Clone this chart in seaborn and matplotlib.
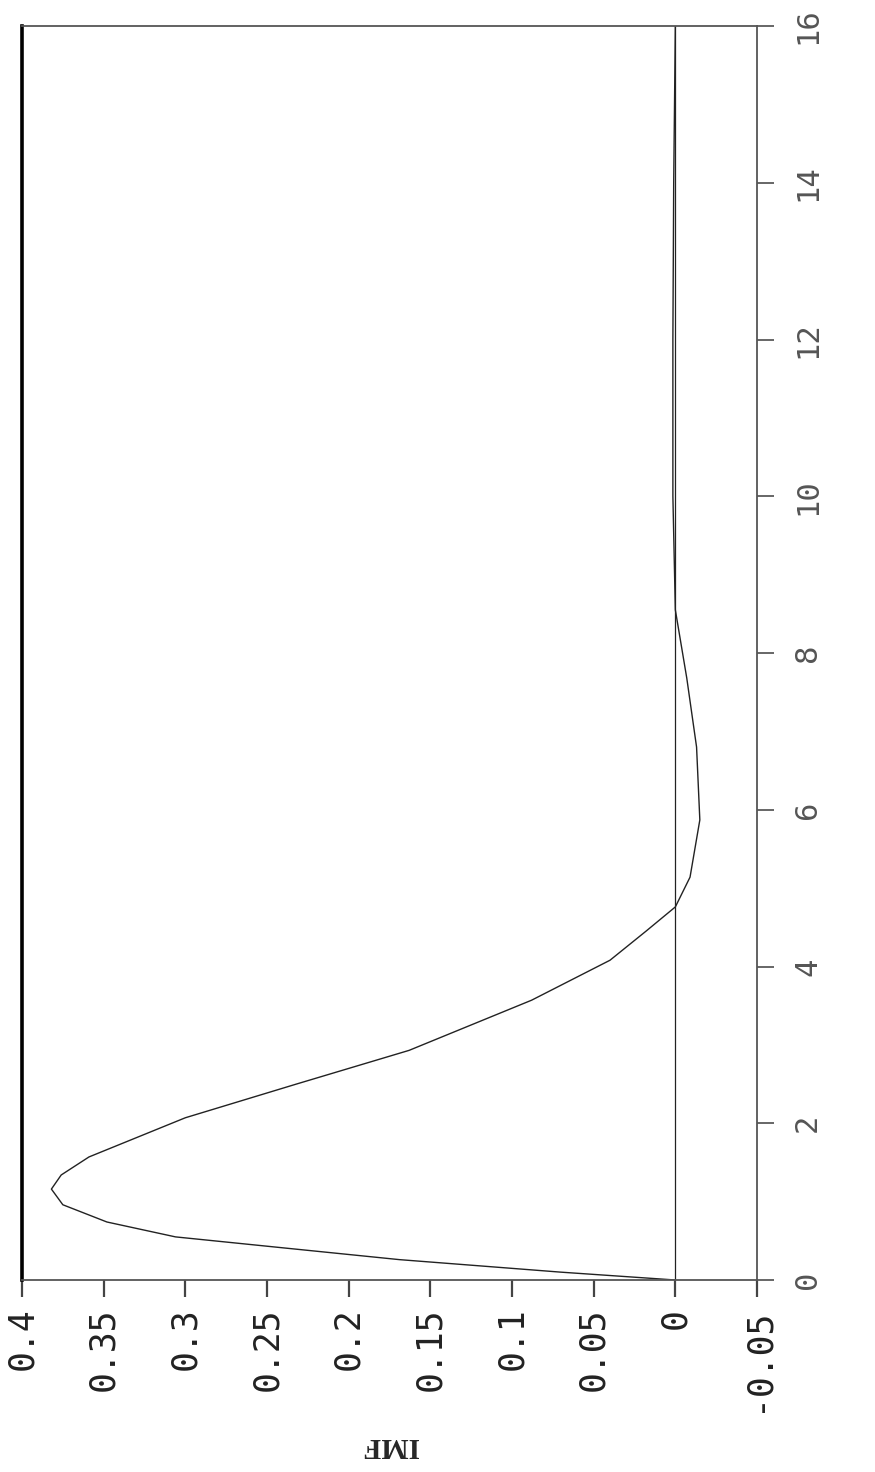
import matplotlib
matplotlib.use("Agg")
import matplotlib.pyplot as plt
import pandas as pd
import seaborn as sns

# chart is printed turned on its side: time runs up the page, IMF runs right-to-left
time_vals = [0, 0.1, 0.26, 0.41, 0.55, 0.74, 0.96, 1.16, 1.34, 1.57, 2.07, 2.5,
             2.93, 3.57, 4.08, 4.45, 4.76, 5.14, 5.87, 6.8, 7.68, 8.55, 10, 12, 14, 16]
imf_vals = [0, 0.07, 0.169, 0.240, 0.306, 0.348, 0.375, 0.382, 0.376, 0.359, 0.300, 0.232,
            0.163, 0.088, 0.040, 0.018, 0.0, -0.009, -0.015, -0.013, -0.007, 0.0,
            0.0015, 0.0015, 0.001, 0.0]

imf_ticks = [0.4, 0.35, 0.3, 0.25, 0.2, 0.15, 0.1, 0.05, 0, -0.05]
imf_tick_labels = ["0.4", "0.35", "0.3", "0.25", "0.2", "0.15", "0.1", "0.05", "0", "-0.05"]
time_ticks = [0, 2, 4, 6, 8, 10, 12, 14, 16]
time_tick_labels = ["0", "2", "4", "6", "8", "10", "12", "14", "16"]

W, H = 875, 1472


def main():
    sns.set_style("white")
    plt.rcParams["font.family"] = ["DejaVu Sans Mono", "DejaVu Sans"]

    df = pd.DataFrame({"time": time_vals, "imf": imf_vals})

    fig = plt.figure(figsize=(W / 100, H / 100), dpi=100)
    ax = fig.add_axes([22 / W, 1 - 1280 / H, (757 - 22) / W, (1280 - 26) / H])

    sns.lineplot(data=df, x="imf", y="time", sort=False, estimator=None,
                 orient="y", color="#222222", lw=1.0, ax=ax)
    ax.axvline(0, color="#222222", lw=0.9, zorder=1)

    ax.set_xlim(0.4, -0.05)
    ax.set_ylim(0, 16)

    ax.set_xticks(imf_ticks)
    ax.set_xticklabels(imf_tick_labels, rotation=90, fontsize=25, color="#222222")
    ax.tick_params(axis="x", bottom=True, length=12, width=1.6, pad=8, color="#444444")

    ax.set_yticks(time_ticks)
    ax.set_yticklabels(time_tick_labels, rotation=90, fontsize=22, color="#555555")
    ax.yaxis.tick_right()
    ax.tick_params(axis="y", right=True, left=False, labelleft=False, labelright=True,
                   length=12, width=1.4, pad=14, color="#666666")
    for lab in ax.get_yticklabels():
        lab.set_verticalalignment("center")

    ax.set_ylabel("")
    ax.set_xlabel("IMF", rotation=180, fontsize=21, fontweight="bold",
                  family=["Liberation Serif", "DejaVu Serif"], va="center")
    ax.xaxis.set_label_coords(0.5, -(1446 - 1280) / (1280 - 26))

    ax.spines["left"].set_linewidth(2.6)
    ax.spines["left"].set_color("black")
    for side in ["top", "right", "bottom"]:
        ax.spines[side].set_linewidth(1.3)
        ax.spines[side].set_color("#555555")

    fig.savefig("out.png", dpi=100, facecolor="white")


if __name__ == "__main__":
    main()
